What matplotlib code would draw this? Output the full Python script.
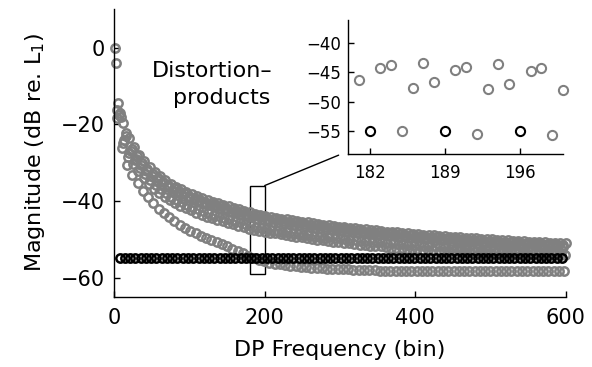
import numpy as np
import matplotlib.pyplot as plt
from matplotlib.patches import Rectangle, ConnectionPatch

plt.rcParams['font.family'] = ['DejaVu Sans']
plt.rcParams['mathtext.default'] = 'regular'

# -----------------------------
# DP magnitudes (dB re. L1), one list per bin residue mod 7
# bins of series r are r, r+7, r+14, ...
# -----------------------------
dp_r1 = [0.0, -17.0, -23.0, -27.0, -29.0, -30.7, -32.2, -33.5, -34.6, -35.6,
         -36.5, -37.3, -38.0, -38.6, -39.2, -39.8, -40.3, -40.8, -41.2, -41.6,
         -42.0, -42.4, -42.8, -43.2, -43.6, -44.0, -44.3, -44.6, -44.8, -45.2,
         -45.4, -45.6, -45.8, -46.0, -46.2, -46.4, -46.6, -46.8, -47.0, -47.2,
         -47.3, -47.5, -47.7, -47.8, -48.0, -48.1, -48.3, -48.4, -48.6, -48.7,
         -48.8, -49.0, -49.1, -49.2, -49.3, -49.5, -49.6, -49.7, -49.8, -49.9,
         -50.0, -50.1, -50.2, -50.3, -50.4, -50.5, -50.6, -50.7, -50.8, -50.9,
         -51.0, -51.0, -51.1, -51.2, -51.3, -51.4, -51.4, -51.5, -51.6, -51.7,
         -51.7, -51.8, -51.9, -51.9, -52.0, -52.1]

dp_r2 = [-4.0, -18.0, -22.3, -26.4, -28.4, -30.1, -31.6, -32.9, -34.0, -35.0,
         -35.9, -36.7, -37.4, -38.0, -38.6, -39.2, -39.7, -40.2, -40.6, -41.0,
         -41.4, -41.8, -42.2, -42.6, -43.0, -43.4, -43.7, -44.0, -44.3, -44.6,
         -44.8, -45.0, -45.2, -45.4, -45.6, -45.8, -46.0, -46.2, -46.4, -46.6,
         -46.7, -46.9, -47.1, -47.2, -47.4, -47.5, -47.7, -47.8, -48.0, -48.1,
         -48.2, -48.4, -48.5, -48.6, -48.7, -48.9, -49.0, -49.1, -49.2, -49.3,
         -49.4, -49.5, -49.6, -49.7, -49.8, -49.9, -50.0, -50.1, -50.2, -50.3,
         -50.4, -50.4, -50.5, -50.6, -50.7, -50.8, -50.8, -50.9, -51.0, -51.1,
         -51.1, -51.2, -51.3, -51.3, -51.4, -51.5]

dp_r3 = [-16.3, -26.3, -30.6, -33.3, -35.4, -37.3, -39.0, -40.6, -42.0, -43.2,
         -44.3, -45.3, -46.3, -47.1, -47.8, -48.5, -49.1, -49.7, -50.3, -50.8,
         -51.3, -51.9, -52.5, -53.1, -53.7, -54.4, -55.0, -55.5, -55.8, -56.1,
         -56.4, -56.6, -56.8, -57.0, -57.1, -57.2, -57.3, -57.4, -57.5, -57.6,
         -57.7, -57.8, -57.8, -57.9, -57.9, -58.0, -58.0, -58.1, -58.1, -58.1,
         -58.2, -58.2, -58.2, -58.2, -58.3, -58.3, -58.3, -58.3, -58.3, -58.3,
         -58.3, -58.3, -58.3, -58.3, -58.3, -58.3, -58.3, -58.3, -58.3, -58.3,
         -58.3, -58.3, -58.3, -58.3, -58.3, -58.3, -58.3, -58.3, -58.3, -58.3,
         -58.3, -58.2, -58.2, -58.2, -58.2, -58.2]

dp_r4 = [-18.5, -25.0, -28.5, -30.3, -32.3, -34.0, -35.5, -36.8, -37.9, -38.9,
         -39.8, -40.6, -41.3, -41.9, -42.5, -43.1, -43.6, -44.1, -44.5, -44.9,
         -45.3, -45.7, -46.1, -46.5, -46.9, -47.3, -47.7, -47.8, -48.0, -48.3,
         -48.5, -48.7, -48.9, -49.1, -49.3, -49.5, -49.7, -49.9, -50.1, -50.3,
         -50.4, -50.6, -50.8, -50.9, -51.1, -51.2, -51.4, -51.5, -51.7, -51.8,
         -51.9, -52.1, -52.2, -52.3, -52.4, -52.5, -52.6, -52.6, -52.7, -52.8,
         -52.9, -53.0, -53.0, -53.1, -53.2, -53.2, -53.3, -53.3, -53.4, -53.5,
         -53.5, -53.5, -53.6, -53.6, -53.7, -53.7, -53.7, -53.8, -53.8, -53.9,
         -53.9, -53.9, -54.0, -54.0, -54.0, -54.1]

dp_r5 = [-14.4, -19.8, -23.5, -26.0, -28.0, -29.7, -31.2, -32.5, -33.6, -34.6,
         -35.5, -36.3, -37.0, -37.6, -38.2, -38.8, -39.3, -39.8, -40.2, -40.6,
         -41.0, -41.4, -41.8, -42.2, -42.6, -43.0, -43.3, -43.6, -43.9, -44.2,
         -44.4, -44.6, -44.8, -45.0, -45.2, -45.4, -45.6, -45.8, -46.0, -46.2,
         -46.3, -46.5, -46.7, -46.8, -47.0, -47.1, -47.3, -47.4, -47.6, -47.7,
         -47.8, -48.0, -48.1, -48.2, -48.3, -48.5, -48.6, -48.7, -48.8, -48.9,
         -49.0, -49.1, -49.2, -49.3, -49.4, -49.5, -49.6, -49.7, -49.8, -49.9,
         -50.0, -50.0, -50.1, -50.2, -50.3, -50.4, -50.4, -50.5, -50.6, -50.7,
         -50.7, -50.8, -50.9, -50.9, -51.0, -51.1]

dp_r6 = [-17.6, -24.0, -27.5, -29.4, -31.4, -33.1, -34.6, -35.9, -37.0, -38.0,
         -38.9, -39.7, -40.4, -41.0, -41.6, -42.2, -42.7, -43.2, -43.6, -44.0,
         -44.4, -44.8, -45.2, -45.6, -46.0, -46.3, -46.7, -47.0, -47.3, -47.6,
         -47.8, -48.0, -48.2, -48.4, -48.6, -48.8, -49.0, -49.2, -49.4, -49.6,
         -49.5, -49.6, -49.8, -49.9, -50.1, -50.2, -50.4, -50.5, -50.7, -50.8,
         -50.8, -51.0, -51.1, -51.2, -51.3, -51.4, -51.5, -51.6, -51.7, -51.8,
         -51.8, -51.9, -52.0, -52.1, -52.2, -52.3, -52.4, -52.5, -52.6, -52.7,
         -52.7, -52.7, -52.8, -52.9, -53.0, -53.1, -53.1, -53.2, -53.2, -53.3,
         -53.3, -53.4, -53.4, -53.4, -53.5]

gray_series = {1: dp_r1, 2: dp_r2, 3: dp_r3, 4: dp_r4, 5: dp_r5, 6: dp_r6}

# multiples of 7 (black)
black_bins = np.arange(7, 596, 7)
black_db = [-55.0] * len(black_bins)

# zoom window
zoom_x = (180, 200)
zoom_y = (-59, -36)

GRAY = '#808080'

# -----------------------------
# Figure
# -----------------------------
fig = plt.figure(figsize=(5.92, 3.67), dpi=100)
ax = fig.add_axes([0.193, 0.1916, 0.7625, 0.7831])

for r, vals in gray_series.items():
    bins = np.arange(r, 601, 7)[:len(vals)]
    ax.plot(bins, vals, 'o', mfc='none', mec=GRAY, ms=6.0, mew=1.8, clip_on=False)
ax.plot(black_bins, black_db, 'o', mfc='none', mec='k', ms=6.0, mew=1.8, clip_on=False)

ax.set_xlim(0, 600)
ax.set_ylim(-65, 10)
ax.set_xticks([0, 200, 400, 600])
ax.set_yticks([-60, -40, -20, 0])
for s in ['top', 'right']:
    ax.spines[s].set_visible(False)
for s in ['left', 'bottom']:
    ax.spines[s].set_linewidth(1.0)
ax.tick_params(direction='in', length=4, width=1, labelsize=15)
ax.tick_params(axis='x', pad=8)
ax.tick_params(axis='y', pad=6.5)
ax.set_xlabel('DP Frequency (bin)', fontsize=16)
ax.set_ylabel('Magnitude (dB re. L$_1$)', fontsize=16)
ax.xaxis.set_label_coords(0.5, -0.15)
ax.yaxis.set_label_coords(-0.149, 0.5)

ax.text(49.8, -7.75, 'Distortion–', fontsize=16, ha='left', va='baseline')
ax.text(78.1, -14.7, 'products', fontsize=16, ha='left', va='baseline')

ax.add_patch(Rectangle((zoom_x[0], zoom_y[0]), zoom_x[1] - zoom_x[0],
                       zoom_y[1] - zoom_y[0], fill=False, ec='k', lw=1.0))

# -----------------------------
# Inset
# -----------------------------
axin = fig.add_axes([0.5883, 0.5804, 0.3622, 0.3651])
for r, vals in gray_series.items():
    bins = np.arange(r, 601, 7)[:len(vals)]
    m = (bins > zoom_x[0]) & (bins <= zoom_x[1])
    axin.plot(bins[m], np.array(vals)[m], 'o', mfc='none', mec=GRAY,
              ms=6.6, mew=1.5, clip_on=False)
m = (black_bins > zoom_x[0]) & (black_bins <= zoom_x[1])
axin.plot(black_bins[m], np.array(black_db)[m], 'o', mfc='none', mec='k',
          ms=6.6, mew=1.5, clip_on=False)

axin.set_xlim(*zoom_x)
axin.set_ylim(*zoom_y)
axin.set_xticks([182, 189, 196])
axin.set_yticks([-55, -50, -45, -40])
for s in ['top', 'right']:
    axin.spines[s].set_visible(False)
for s in ['left', 'bottom']:
    axin.spines[s].set_linewidth(1.0)
axin.tick_params(direction='in', length=4, width=1, labelsize=12)
axin.tick_params(axis='x', pad=7.5)
axin.tick_params(axis='y', pad=5.5)

con = ConnectionPatch(xyA=(zoom_x[1], zoom_y[1]), coordsA=ax.transData,
                      xyB=(179.1, -59.2), coordsB=axin.transData,
                      color='k', lw=1.0)
fig.add_artist(con)

fig.savefig('out.png', dpi=100)
